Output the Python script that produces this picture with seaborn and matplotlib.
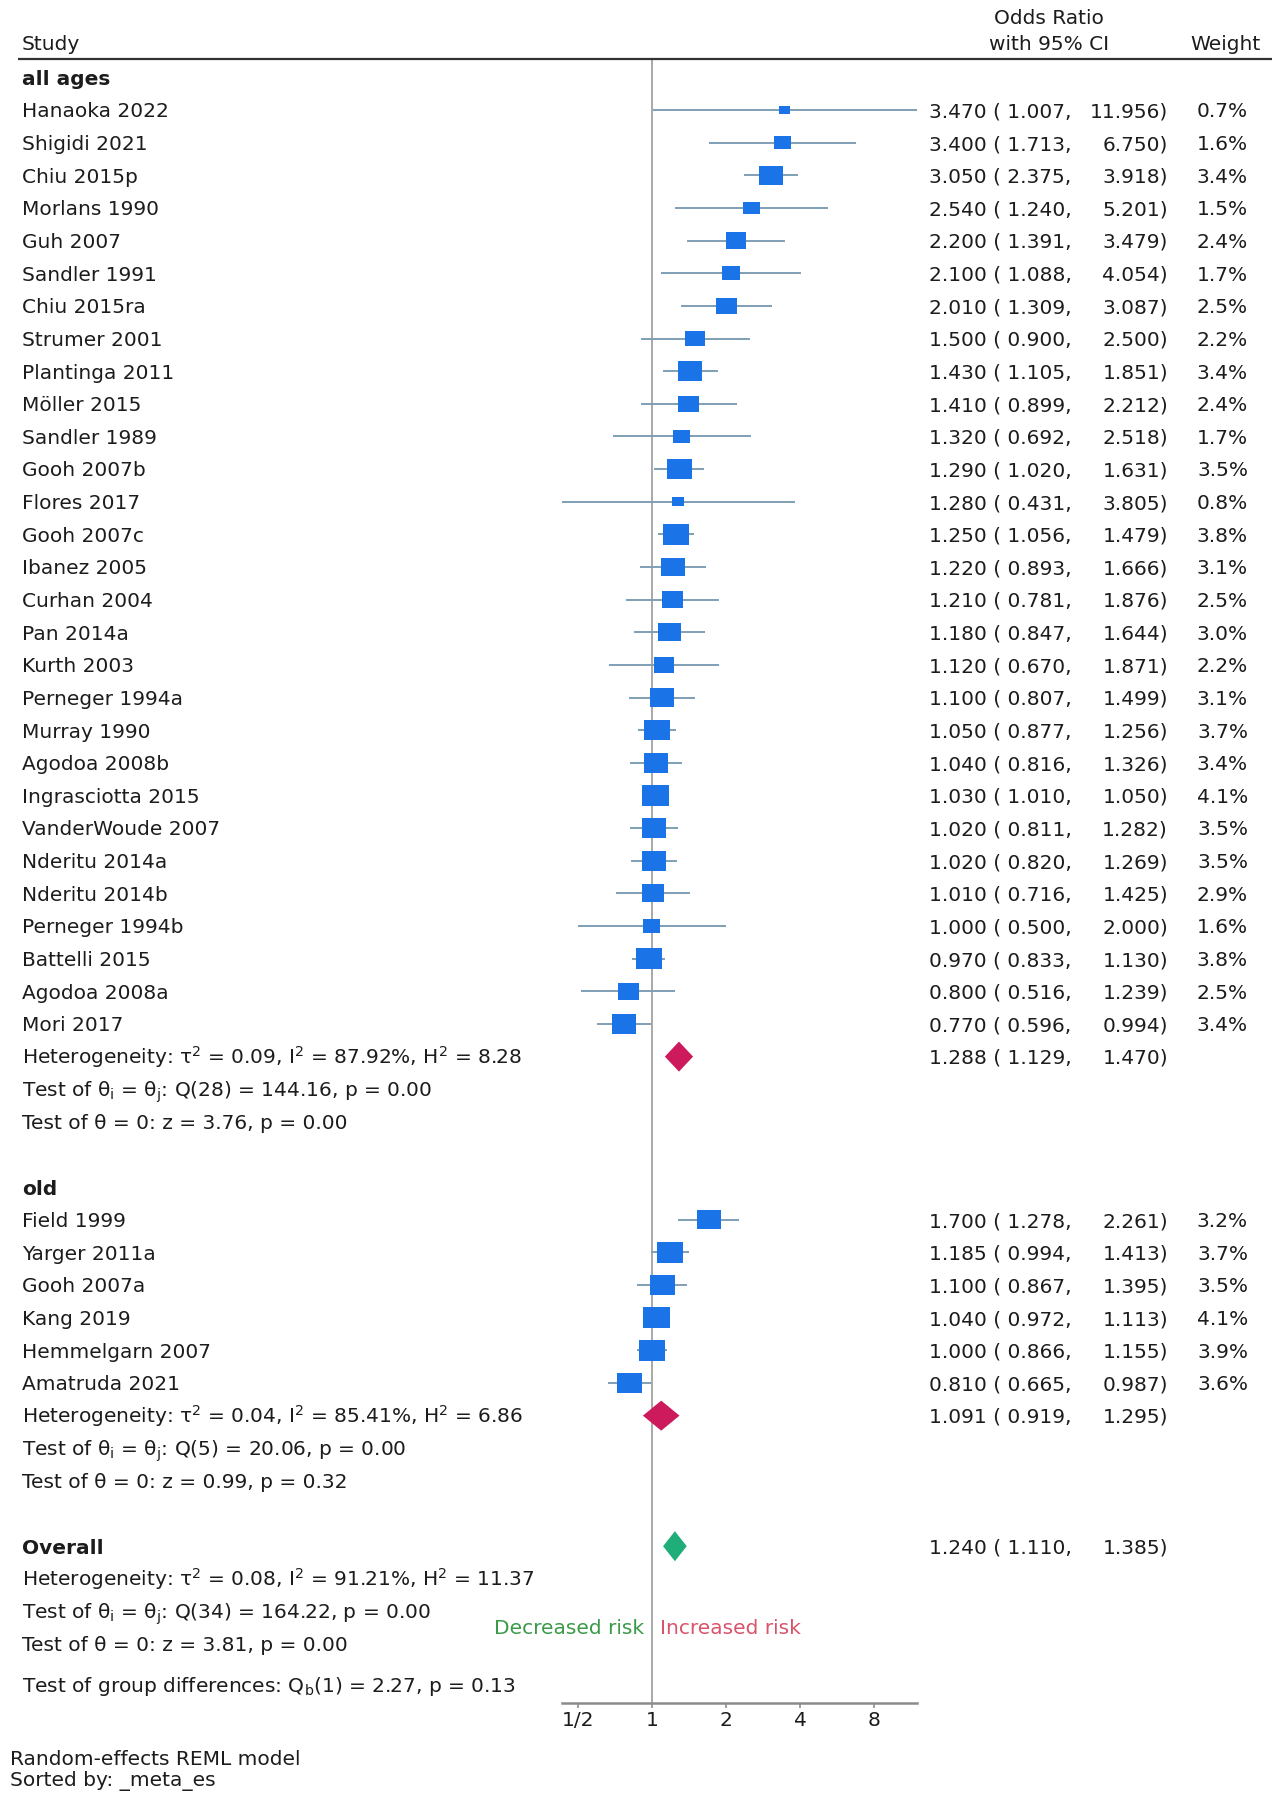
import numpy as np
import pandas as pd
import matplotlib
matplotlib.use("Agg")
import matplotlib.pyplot as plt
import matplotlib.transforms as mtransforms
import seaborn as sns

# ---------------- data ----------------
study_all = ["Hanaoka 2022", "Shigidi 2021", "Chiu 2015p", "Morlans 1990", "Guh 2007",
             "Sandler 1991", "Chiu 2015ra", "Strumer 2001", "Plantinga 2011", "Möller 2015",
             "Sandler 1989", "Gooh 2007b", "Flores 2017", "Gooh 2007c", "Ibanez 2005",
             "Curhan 2004", "Pan 2014a", "Kurth 2003", "Perneger 1994a", "Murray 1990",
             "Agodoa 2008b", "Ingrasciotta 2015", "VanderWoude 2007", "Nderitu 2014a",
             "Nderitu 2014b", "Perneger 1994b", "Battelli 2015", "Agodoa 2008a", "Mori 2017"]
or_all = [3.470, 3.400, 3.050, 2.540, 2.200, 2.100, 2.010, 1.500, 1.430, 1.410,
          1.320, 1.290, 1.280, 1.250, 1.220, 1.210, 1.180, 1.120, 1.100, 1.050,
          1.040, 1.030, 1.020, 1.020, 1.010, 1.000, 0.970, 0.800, 0.770]
lo_all = [1.007, 1.713, 2.375, 1.240, 1.391, 1.088, 1.309, 0.900, 1.105, 0.899,
          0.692, 1.020, 0.431, 1.056, 0.893, 0.781, 0.847, 0.670, 0.807, 0.877,
          0.816, 1.010, 0.811, 0.820, 0.716, 0.500, 0.833, 0.516, 0.596]
hi_all = [11.956, 6.750, 3.918, 5.201, 3.479, 4.054, 3.087, 2.500, 1.851, 2.212,
          2.518, 1.631, 3.805, 1.479, 1.666, 1.876, 1.644, 1.871, 1.499, 1.256,
          1.326, 1.050, 1.282, 1.269, 1.425, 2.000, 1.130, 1.239, 0.994]
w_all = [0.7, 1.6, 3.4, 1.5, 2.4, 1.7, 2.5, 2.2, 3.4, 2.4,
         1.7, 3.5, 0.8, 3.8, 3.1, 2.5, 3.0, 2.2, 3.1, 3.7,
         3.4, 4.1, 3.5, 3.5, 2.9, 1.6, 3.8, 2.5, 3.4]

study_old = ["Field 1999", "Yarger 2011a", "Gooh 2007a", "Kang 2019", "Hemmelgarn 2007", "Amatruda 2021"]
or_old = [1.700, 1.185, 1.100, 1.040, 1.000, 0.810]
lo_old = [1.278, 0.994, 0.867, 0.972, 0.866, 0.665]
hi_old = [2.261, 1.413, 1.395, 1.113, 1.155, 0.987]
w_old = [3.2, 3.7, 3.5, 4.1, 3.9, 3.6]

group_names = ["all ages", "old"]
group_or = [1.288, 1.091]
group_lo = [1.129, 0.919]
group_hi = [1.470, 1.295]
overall_or, overall_lo, overall_hi = 1.240, 1.110, 1.385

stats_all = ["Heterogeneity: τ$^2$ = 0.09, I$^2$ = 87.92%, H$^2$ = 8.28",
             "Test of θ$_i$ = θ$_j$: Q(28) = 144.16, p = 0.00",
             "Test of θ = 0: z = 3.76, p = 0.00"]
stats_old = ["Heterogeneity: τ$^2$ = 0.04, I$^2$ = 85.41%, H$^2$ = 6.86",
             "Test of θ$_i$ = θ$_j$: Q(5) = 20.06, p = 0.00",
             "Test of θ = 0: z = 0.99, p = 0.32"]
stats_overall = ["Heterogeneity: τ$^2$ = 0.08, I$^2$ = 91.21%, H$^2$ = 11.37",
                 "Test of θ$_i$ = θ$_j$: Q(34) = 164.22, p = 0.00",
                 "Test of θ = 0: z = 3.81, p = 0.00"]
group_diff = "Test of group differences: Q$_b$(1) = 2.27, p = 0.13"

tick_vals = [0.5, 1, 2, 4, 8]
tick_labels = ["1/2", "1", "2", "4", "8"]

# ---------------- layout ----------------
sns.set_theme(style="white")
plt.rcParams['font.family'] = ['DejaVu Sans']
plt.rcParams['mathtext.default'] = 'regular'

W, H = 1280, 1807
FS = 14.5
TXT = "#1c1c1c"
SQ = "#1a74e8"
CI = "#7f9fb5"
SUB = "#cc1a5c"
OVR = "#1fae7a"

y0, dy = 77.4, 32.64          # pixel y of row 0 and row spacing
ax_left_px, ax_right_px, ax_bottom_px = 562, 917, 1702.5

fig = plt.figure(figsize=(W / 100, H / 100), dpi=100)
ax = fig.add_axes([ax_left_px / W, 1 - ax_bottom_px / H,
                   (ax_right_px - ax_left_px) / W, ax_bottom_px / H])
ax.set_facecolor("none")
r_top = -y0 / dy
r_bot = (ax_bottom_px - y0) / dy
ax.set_ylim(r_bot, r_top)

all_lo = lo_all + lo_old
all_hi = hi_all + hi_old
ax.set_xscale("log", base=2)
ax.set_xlim(min(all_lo), max(all_hi))

# rows
rows_all = list(range(1, 1 + len(study_all)))
r_stats_all = [30, 31, 32]
r_old_head = 34
rows_old = list(range(35, 35 + len(study_old)))
r_stats_old = [41, 42, 43]
r_overall = 45
r_stats_overall = [46, 47, 48]
r_gdiff = 49.25
r_risk = 47.48
group_rows = [30, 41]

df = pd.DataFrame({
    "study": study_all + study_old,
    "or": or_all + or_old,
    "lo": lo_all + lo_old,
    "hi": hi_all + hi_old,
    "w": w_all + w_old,
    "row": rows_all + rows_old,
})

# CI lines
ax.hlines(df["row"], df["lo"], df["hi"], color=CI, lw=1.4, zorder=2)

# squares: area proportional to weight (slightly wide rectangle like reference)
rect = [(-1.27, -1), (1.27, -1), (1.27, 1), (-1.27, 1), (-1.27, -1)]
k = 92.0
wmin, wmax = df["w"].min(), df["w"].max()
sns.scatterplot(data=df, x="or", y="row", size="w", sizes=(k * wmin, k * wmax),
                size_norm=(wmin, wmax), marker=rect, color=SQ, linewidth=0,
                edgecolor="none", legend=False, ax=ax, zorder=3)

# diamonds
hh = 0.46
for r, e, l, h in zip(group_rows, group_or, group_lo, group_hi):
    ax.fill([l, e, h, e], [r, r - hh, r, r + hh], color=SUB, lw=0, zorder=3)
ax.fill([overall_lo, overall_or, overall_hi, overall_or],
        [r_overall, r_overall - hh, r_overall, r_overall + hh], color=OVR, lw=0, zorder=3)

# null line
top_rule_r = (59 - y0) / dy
ax.vlines(1, top_rule_r, r_bot, color="#9a9a9a", lw=1.2, zorder=1)

# axis styling
for s in ["top", "right", "left"]:
    ax.spines[s].set_visible(False)
ax.spines["bottom"].set_color("#8c8c8c")
ax.spines["bottom"].set_linewidth(1.8)
ax.set_xticks(tick_vals)
ax.set_xticklabels(tick_labels)
ax.xaxis.set_minor_locator(matplotlib.ticker.NullLocator())
ax.tick_params(axis="x", direction="out", length=3.5, width=1.2, color="#8c8c8c",
               labelsize=FS, labelcolor=TXT, pad=2.5, bottom=True)
ax.set_yticks([])
ax.set_xlabel("")
ax.set_ylabel("")

# ---------------- text ----------------
trans = mtransforms.blended_transform_factory(fig.transFigure, ax.transData)
base_off = 0.365 * FS * 100 / 72 / dy   # shift so cap centre sits on the row


def txt(px, r, s, ha="left", **kw):
    ax.text(px / W, r + base_off, s, transform=trans, ha=ha, va="baseline",
            fontsize=kw.pop("fontsize", FS), color=kw.pop("color", TXT),
            clip_on=False, **kw)


# header
r_hdr2 = (43 - y0) / dy
r_hdr1 = (17 - y0) / dy
txt(22, r_hdr2, "Study")
txt(1049, r_hdr1, "Odds Ratio", ha="center")
txt(1049, r_hdr2, "with 95% CI", ha="center")
txt(1225, r_hdr2, "Weight", ha="center")
ax.plot([18 / W, 1272 / W], [top_rule_r, top_rule_r], transform=trans, color="#333333",
        lw=1.6, clip_on=False, solid_capstyle="butt")

# group headings
txt(22, 0, group_names[0], fontweight="bold")
txt(22, r_old_head, group_names[1], fontweight="bold")
txt(22, r_overall, "Overall", fontweight="bold")


def est_text(r, e, l, h, w=None):
    txt(929, r, f"{e:.3f} ( {l:.3f},")
    txt(1168, r, f"{h:.3f})", ha="right")
    if w is not None:
        txt(1248, r, f"{w:.1f}%", ha="right")


for _, rw in df.iterrows():
    txt(22, rw["row"], rw["study"])
    est_text(rw["row"], rw["or"], rw["lo"], rw["hi"], rw["w"])

for r, e, l, h in zip(group_rows, group_or, group_lo, group_hi):
    est_text(r, e, l, h)
est_text(r_overall, overall_or, overall_lo, overall_hi)

for r, s in zip(r_stats_all, stats_all):
    txt(22, r, s)
for r, s in zip(r_stats_old, stats_old):
    txt(22, r, s)
for r, s in zip(r_stats_overall, stats_overall):
    txt(22, r, s)
txt(22, r_gdiff, group_diff)

txt(644, r_risk, "Decreased risk", ha="right", color="#3a9a48")
txt(660, r_risk, "Increased risk", ha="left", color="#d9536b")

# footnotes
cap_px = 0.365 * FS * 100 / 72
fig.text(10 / W, 1 - (1758 + cap_px) / H, "Random-effects REML model", fontsize=FS,
         color=TXT, va="baseline")
fig.text(10 / W, 1 - (1779 + cap_px) / H, "Sorted by: _meta_es", fontsize=FS,
         color=TXT, va="baseline")

fig.savefig("out.png", dpi=100, facecolor="white")
